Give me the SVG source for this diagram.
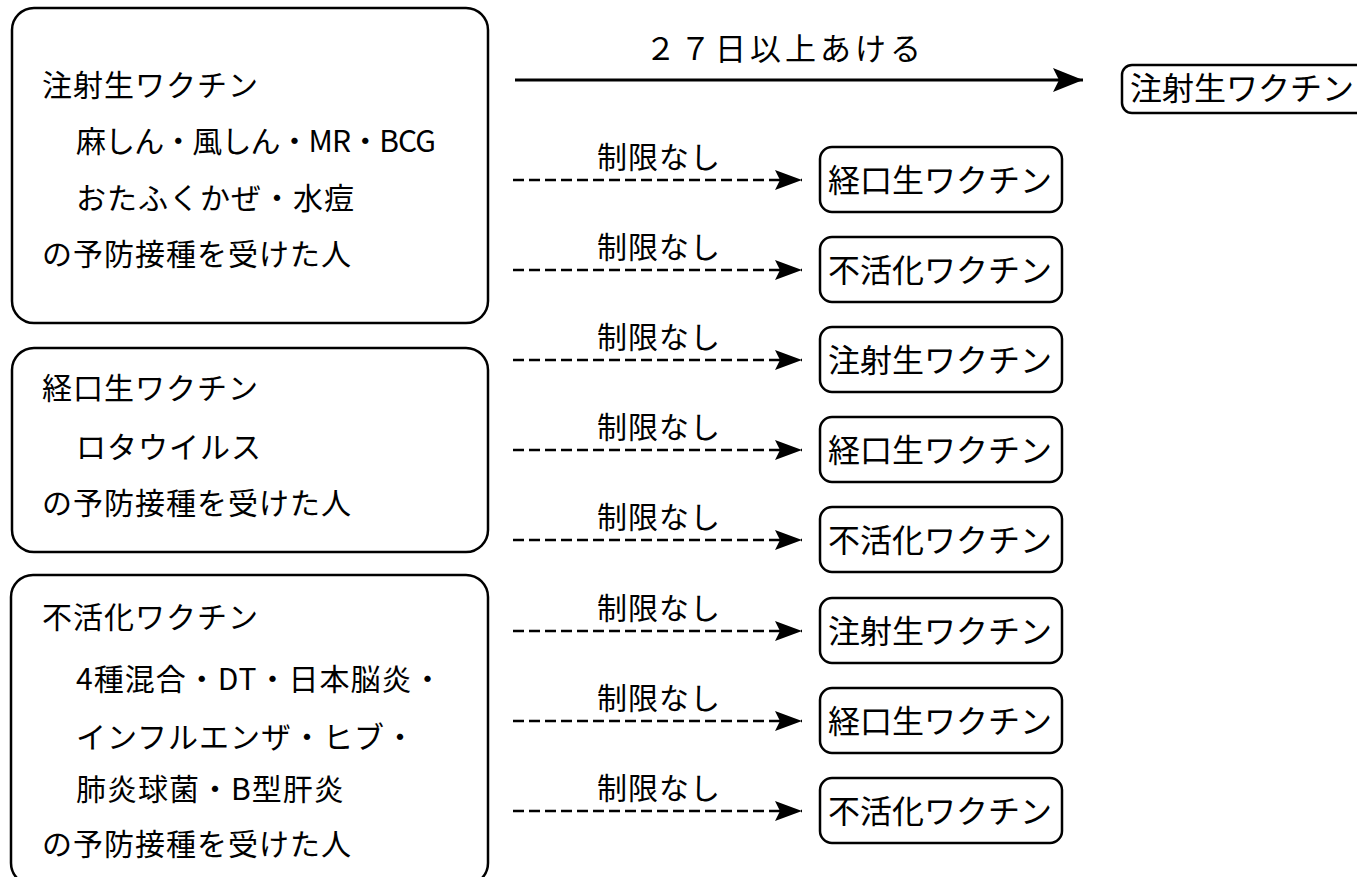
<svg xmlns="http://www.w3.org/2000/svg" width="1357" height="877" viewBox="0 0 1357 877">
<defs>
<style>
.box{fill:#fff;stroke:#000;stroke-width:2.5}
.t{font-family:"Noto Sans CJK JP","Noto Sans",sans-serif;font-size:30px;fill:#000;letter-spacing:1px}
.tr{font-family:"Noto Sans CJK JP","Noto Sans",sans-serif;font-size:32px;fill:#000}
.lab{font-family:"Noto Sans CJK JP","Noto Sans",sans-serif;font-size:30px;fill:#000;letter-spacing:1px}
.top{font-family:"Noto Sans CJK JP","Noto Sans",sans-serif;font-size:31px;fill:#000;letter-spacing:4px}
.dash{stroke:#000;stroke-width:2.6;stroke-dasharray:11 5;fill:none}
.solid{stroke:#000;stroke-width:3;fill:none}
</style>
<marker id="ah" markerWidth="28" markerHeight="22" refX="27" refY="11" orient="auto" markerUnits="userSpaceOnUse">
<path d="M0,1 L27,11 L0,21 L5,11 Z" fill="#000"/>
</marker>
<marker id="ah2" markerWidth="32" markerHeight="26" refX="30" refY="13" orient="auto" markerUnits="userSpaceOnUse">
<path d="M0,1 L30,13 L0,25 L6,13 Z" fill="#000"/>
</marker>
</defs>
<rect width="1357" height="877" fill="#fff"/>

<g id="src1">
<rect class="box" x="12" y="8" width="476" height="315" rx="22"/>
<text class="t" x="42" y="96">注射生ワクチン</text>
<text class="t" x="76" y="152" textLength="361" lengthAdjust="spacing">麻しん・風しん・MR・BCG</text>
<text class="t" x="76" y="209">おたふくかぜ・水痘</text>
<text class="t" x="42" y="265">の予防接種を受けた人</text>
</g>

<g id="src2">
<rect class="box" x="12" y="348" width="476" height="204" rx="22"/>
<text class="t" x="42" y="399">経口生ワクチン</text>
<text class="t" x="76" y="458">ロタウイルス</text>
<text class="t" x="42" y="514">の予防接種を受けた人</text>
</g>

<g id="src3">
<rect class="box" x="11" y="575" width="477" height="310" rx="22"/>
<text class="t" x="42" y="628">不活化ワクチン</text>
<text class="t" x="76" y="690">4種混合・DT・日本脳炎・</text>
<text class="t" x="76" y="748">インフルエンザ・ヒブ・</text>
<text class="t" x="76" y="800">肺炎球菌・B型肝炎</text>
<text class="t" x="42" y="855">の予防接種を受けた人</text>
</g>

<g id="dst0">
<rect class="box" x="1122" y="65" width="260" height="48" rx="10"/>
<text class="tr" x="1130" y="100">注射生ワクチン</text>
</g>
<g id="dst1"><rect class="box" x="820" y="147" width="242" height="65" rx="12"/><text class="tr" x="828" y="192">経口生ワクチン</text></g>
<g id="dst2"><rect class="box" x="820" y="237" width="242" height="65" rx="12"/><text class="tr" x="828" y="282">不活化ワクチン</text></g>
<g id="dst3"><rect class="box" x="820" y="327" width="242" height="65" rx="12"/><text class="tr" x="828" y="372">注射生ワクチン</text></g>
<g id="dst4"><rect class="box" x="820" y="417" width="242" height="65" rx="12"/><text class="tr" x="828" y="462">経口生ワクチン</text></g>
<g id="dst5"><rect class="box" x="820" y="507" width="242" height="65" rx="12"/><text class="tr" x="828" y="552">不活化ワクチン</text></g>
<g id="dst6"><rect class="box" x="820" y="598" width="242" height="65" rx="12"/><text class="tr" x="828" y="643">注射生ワクチン</text></g>
<g id="dst7"><rect class="box" x="820" y="688" width="242" height="65" rx="12"/><text class="tr" x="828" y="733">経口生ワクチン</text></g>
<g id="dst8"><rect class="box" x="820" y="778" width="242" height="65" rx="12"/><text class="tr" x="828" y="823">不活化ワクチン</text></g>

<g id="connectors">
<line class="solid" x1="515" y1="80" x2="1083" y2="80" marker-end="url(#ah2)"/>
<text class="top" x="645" y="60">２７日以上あける</text>
<line class="dash" x1="513" y1="180" x2="802" y2="180" marker-end="url(#ah)"/>
<text class="lab" x="597" y="168">制限なし</text>
<line class="dash" x1="513" y1="270" x2="802" y2="270" marker-end="url(#ah)"/>
<text class="lab" x="597" y="258">制限なし</text>
<line class="dash" x1="513" y1="360" x2="802" y2="360" marker-end="url(#ah)"/>
<text class="lab" x="597" y="348">制限なし</text>
<line class="dash" x1="513" y1="450" x2="802" y2="450" marker-end="url(#ah)"/>
<text class="lab" x="597" y="438">制限なし</text>
<line class="dash" x1="513" y1="540" x2="802" y2="540" marker-end="url(#ah)"/>
<text class="lab" x="597" y="528">制限なし</text>
<line class="dash" x1="513" y1="631" x2="802" y2="631" marker-end="url(#ah)"/>
<text class="lab" x="597" y="619">制限なし</text>
<line class="dash" x1="513" y1="721" x2="802" y2="721" marker-end="url(#ah)"/>
<text class="lab" x="597" y="709">制限なし</text>
<line class="dash" x1="513" y1="811" x2="802" y2="811" marker-end="url(#ah)"/>
<text class="lab" x="597" y="799">制限なし</text>
</g>
</svg>
